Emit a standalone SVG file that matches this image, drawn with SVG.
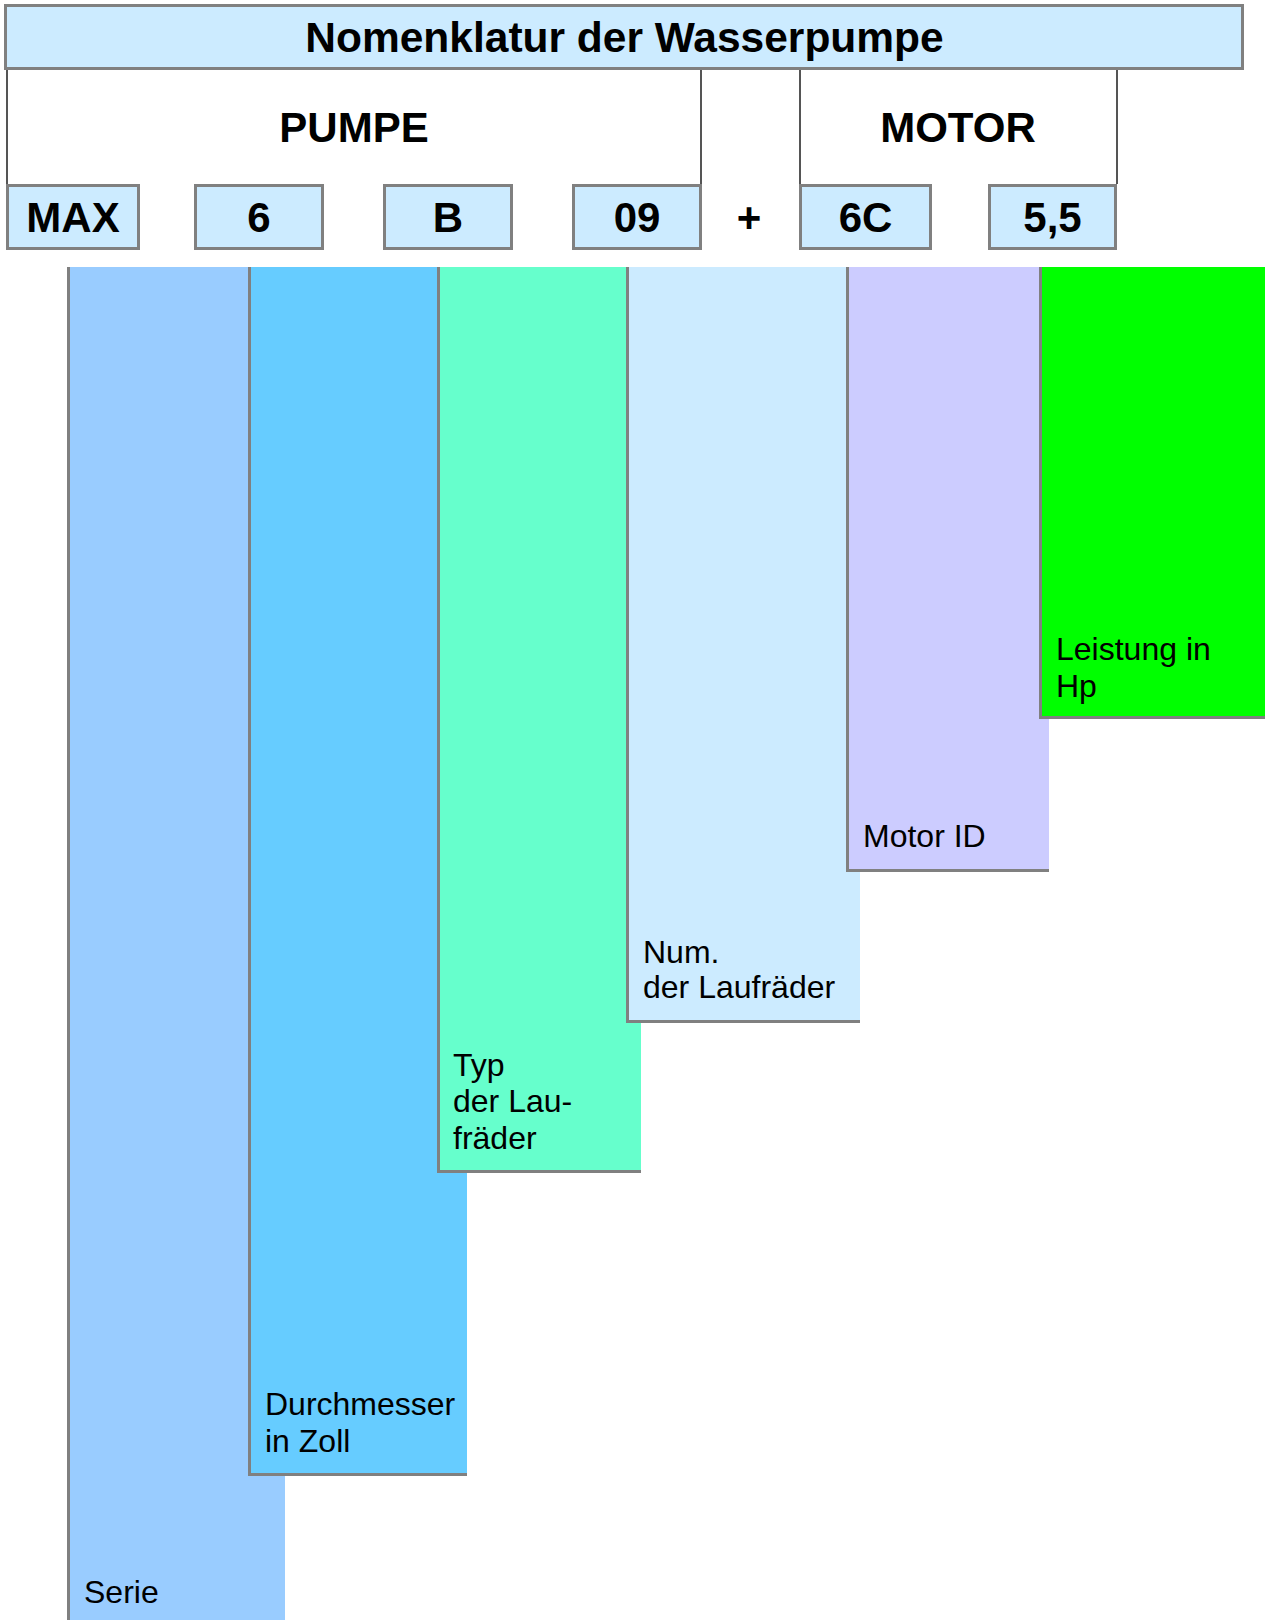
<svg xmlns="http://www.w3.org/2000/svg" width="1270" height="1620" viewBox="0 0 1270 1620">
<style>
.box{fill:#CCEBFF;stroke:#808080;stroke-width:3}
.br{fill:none;stroke:#555555;stroke-width:2}
.hd{font-family:"Liberation Sans",Arial,sans-serif;font-weight:bold;font-size:42px;fill:#000;text-anchor:middle}
.tt{font-size:42.5px}
.lb{font-family:"Liberation Sans",Arial,sans-serif;font-size:32px;fill:#000}
.edge{fill:none;stroke:#808080;stroke-width:3}
</style>
<rect width="1270" height="1620" fill="#FFFFFF"/>
<g id="title">
<rect class="box" x="5.5" y="5.5" width="1237" height="63"/>
<text class="hd tt" x="624.5" y="52">Nomenklatur der Wasserpumpe</text>
</g>
<g id="pumpe">
<path class="br" d="M7,70 V184 M701,70 V184"/>
<text class="hd" x="354" y="142">PUMPE</text>
</g>
<g id="motor">
<path class="br" d="M800,70 V184 M1117,70 V184"/>
<text class="hd" x="958" y="142">MOTOR</text>
</g>
<g id="code-max"><rect class="box" x="7.5" y="185.5" width="131" height="63"/><text class="hd" x="73" y="232">MAX</text></g>
<g id="code-6"><rect class="box" x="195.5" y="185.5" width="127" height="63"/><text class="hd" x="259" y="232">6</text></g>
<g id="code-b"><rect class="box" x="384.5" y="185.5" width="127" height="63"/><text class="hd" x="448" y="232">B</text></g>
<g id="code-09"><rect class="box" x="573.5" y="185.5" width="127" height="63"/><text class="hd" x="637" y="232">09</text></g>
<g id="plus"><text class="hd" x="749" y="232">+</text></g>
<g id="code-6c"><rect class="box" x="800.5" y="185.5" width="130" height="63"/><text class="hd" x="865.5" y="232">6C</text></g>
<g id="code-55"><rect class="box" x="989.5" y="185.5" width="126" height="63"/><text class="hd" x="1052.5" y="232">5,5</text></g>
<g id="connectors"></g>
<g id="col-serie">
<rect x="67" y="267" width="218" height="1353" fill="#99CCFF"/>
<path class="edge" d="M68.5,267 V1620"/>
<text class="lb" x="84" y="1603">Serie</text>
</g>
<g id="col-durchmesser">
<rect x="248" y="267" width="219" height="1209" fill="#66CCFF"/>
<path class="edge" d="M249.5,267 V1474.5 H467"/>
<text class="lb" x="265" y="1415">Durchmesser</text>
<text class="lb" x="265" y="1452">in Zoll</text>
</g>
<g id="col-typ">
<rect x="437" y="267" width="204" height="906" fill="#66FFCC"/>
<path class="edge" d="M438.5,267 V1171.5 H641"/>
<text class="lb" x="453" y="1076">Typ</text>
<text class="lb" x="453" y="1112">der Lau-</text>
<text class="lb" x="453" y="1149">fräder</text>
</g>
<g id="col-num">
<rect x="626" y="267" width="234" height="756" fill="#CCEBFF"/>
<path class="edge" d="M627.5,267 V1021.5 H860"/>
<text class="lb" x="643" y="963">Num.</text>
<text class="lb" x="643" y="998">der Laufräder</text>
</g>
<g id="col-motorid">
<rect x="846" y="267" width="203" height="605" fill="#CCCCFF"/>
<path class="edge" d="M847.5,267 V870.5 H1049"/>
<text class="lb" x="863" y="847">Motor ID</text>
</g>
<g id="col-leistung">
<rect x="1039" y="267" width="226" height="452" fill="#00FF00"/>
<path class="edge" d="M1040.5,267 V717.5 H1265"/>
<text class="lb" x="1056" y="660">Leistung in</text>
<text class="lb" x="1056" y="697">Hp</text>
</g>
</svg>
